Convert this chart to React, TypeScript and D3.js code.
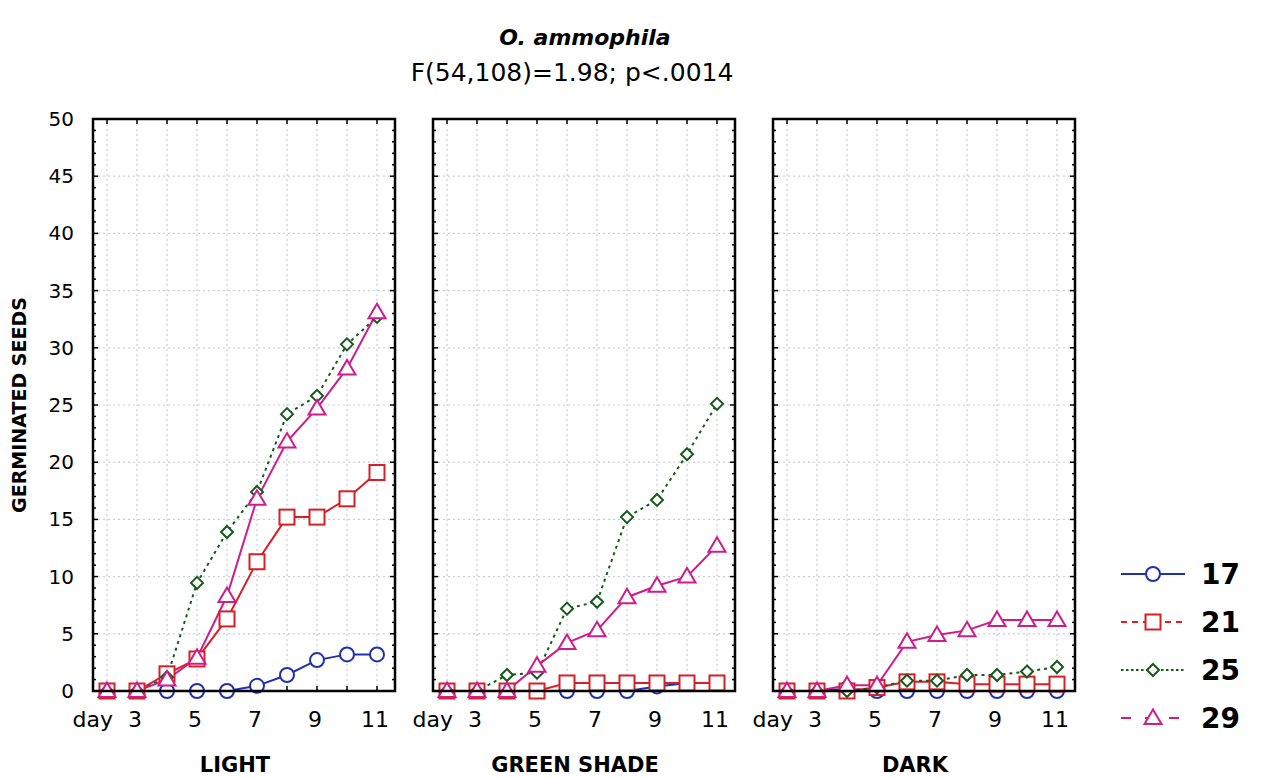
import React from "react";
import * as d3 from "d3";

const days = ["2", "3", "4", "5", "6", "7", "8", "9", "10", "11"];
const dayLabels = ["day", "3", "", "5", "", "7", "", "9", "", "11"];
const panels = ["LIGHT", "GREEN SHADE", "DARK"];
const seriesNames = ["17", "21", "25", "29"];
const yTicks = [0, 5, 10, 15, 20, 25, 30, 35, 40, 45, 50];

// values per panel, per series (days 2..11)
const light17 = [0, 0, 0, 0, 0, 0.45, 1.4, 2.7, 3.2, 3.2];
const light21 = [0, 0, 1.5, 2.8, 6.3, 11.3, 15.2, 15.2, 16.8, 19.1];
const light25 = [0, 0, 1.2, 9.45, 13.9, 17.4, 24.2, 25.8, 30.3, 32.7];
const light29 = [0, 0, 1.0, 2.9, 8.3, 16.8, 21.8, 24.7, 28.2, 33.1];

const shade17 = [0, 0, 0, 0, 0, 0, 0, 0.4, 0.7, 0.7];
const shade21 = [0, 0, 0, 0, 0.7, 0.7, 0.7, 0.7, 0.7, 0.7];
const shade25 = [0, 0, 1.4, 1.6, 7.2, 7.8, 15.2, 16.7, 20.7, 25.1];
const shade29 = [0, 0, 0, 2.2, 4.2, 5.3, 8.2, 9.2, 10.0, 12.7];

const dark17 = [0, 0, 0.2, 0, 0, 0, 0, 0, 0, 0];
const dark21 = [0, 0, 0, 0.3, 0.8, 0.8, 0.6, 0.6, 0.6, 0.6];
const dark25 = [0, 0, 0, 0.3, 0.9, 0.9, 1.4, 1.4, 1.7, 2.1];
const dark29 = [0, 0, 0.5, 0.5, 4.3, 4.9, 5.3, 6.2, 6.2, 6.2];

const panelData = [
  [light17, light21, light25, light29],
  [shade17, shade21, shade25, shade29],
  [dark17, dark21, dark25, dark29],
];

const colors = ["#1f2fae", "#d81f26", "#16591c", "#cf1c8c"];
const plotDash = ["none", "none", "3,4", "none"];
const legendDash = ["none", "6,5", "2.5,2.5", "10,14"];
const markers = ["circle", "square", "diamond", "triangle"];

const FONT = "'DejaVu Sans', sans-serif";

function Marker({ type, x, y, color }: { type: string; x: number; y: number; color: string }) {
  const common = { fill: "white", stroke: color, strokeWidth: 2 };
  if (type === "circle") return <circle cx={x} cy={y} r={7} {...common} />;
  if (type === "square") return <rect x={x - 7.5} y={y - 7.5} width={15} height={15} {...common} />;
  if (type === "diamond")
    return <path d={`M${x},${y - 6}L${x + 6},${y}L${x},${y + 6}L${x - 6},${y}Z`} {...common} />;
  return <path d={`M${x},${y - 8.5}L${x + 8.5},${y + 6}L${x - 8.5},${y + 6}Z`} {...common} />;
}

export default function App() {
  const W = 1265, H = 778;
  const top = 119, bottom = 691;
  const pw = 302;
  const lefts = [93, 433, 773];
  const y = d3.scaleLinear().domain([0, 50]).range([bottom, top]);
  const minorTicks = d3.range(0, 51, 1);

  return (
    <svg width={W} height={H} style={{ position: "absolute", left: 0, top: 0, background: "white" }} fontFamily={FONT}>
      <rect width={W} height={H} fill="white" />
      <text x={585} y={45} textAnchor="middle" fontWeight="bold" fontStyle="italic" fontSize={22}>O. ammophila</text>
      <text x={572} y={81} textAnchor="middle" fontSize={25}>F(54,108)=1.98; p&lt;.0014</text>
      <text transform={`translate(26,${405}) rotate(-90)`} textAnchor="middle" fontWeight="bold" fontSize={19}>GERMINATED SEEDS</text>

      {yTicks.map((t) => (
        <text key={t} x={74} y={y(t) + 7} textAnchor="end" fontSize={20}>{t}</text>
      ))}

      {panels.map((name, pi) => {
        const L = lefts[pi];
        const x = d3.scalePoint<string>().domain(days).range([L + 14, L + 284]);
        const line = d3.line<number>().x((_, i) => x(days[i])!).y((v) => y(v));
        return (
          <g key={name}>
            {yTicks.slice(1, -1).map((t) => (
              <line key={"h" + t} x1={L} x2={L + pw} y1={y(t)} y2={y(t)} stroke="#c9cdda" strokeWidth={1.2} strokeDasharray="2,3" />
            ))}
            {days.map((d) => (
              <line key={"v" + d} x1={x(d)} x2={x(d)} y1={top} y2={bottom} stroke="#c9cdda" strokeWidth={1.2} strokeDasharray="2,3" />
            ))}
            {minorTicks.map((t) => {
              const len = t % 5 === 0 ? 5 : 3;
              return (
                <g key={"t" + t}>
                  <line x1={L} x2={L + len} y1={y(t)} y2={y(t)} stroke="black" strokeWidth={1.5} />
                  <line x1={L + pw} x2={L + pw - len} y1={y(t)} y2={y(t)} stroke="black" strokeWidth={1.5} />
                </g>
              );
            })}
            {days.map((d) => (
              <g key={"xt" + d}>
                <line x1={x(d)} x2={x(d)} y1={top} y2={top + 5} stroke="black" strokeWidth={1.5} />
                <line x1={x(d)} x2={x(d)} y1={bottom} y2={bottom - 5} stroke="black" strokeWidth={1.5} />
              </g>
            ))}
            {panelData[pi].map((vals, si) => (
              <path key={"l" + si} d={line(vals)!} fill="none" stroke={colors[si]} strokeWidth={2} strokeDasharray={plotDash[si]} />
            ))}
            {panelData[pi].map((vals, si) => (
              <g key={"m" + si}>
                {vals.map((v, i) => (
                  <Marker key={i} type={markers[si]} x={x(days[i])!} y={y(v)} color={colors[si]} />
                ))}
              </g>
            ))}
            <rect x={L} y={top} width={pw} height={bottom - top} fill="none" stroke="black" strokeWidth={2.5} />
            {days.map((d, i) => (
              <text
                key={"xl" + d}
                x={i === 0 ? x(d)! + 6 : x(d)! - 2}
                y={727}
                textAnchor={i === 0 ? "end" : "middle"}
                fontSize={22}
              >
                {dayLabels[i]}
              </text>
            ))}
            <text x={L + 142} y={772} textAnchor="middle" fontWeight="bold" fontSize={21}>{name}</text>
          </g>
        );
      })}

      {seriesNames.map((s, si) => {
        const ly = 574 + si * 48;
        return (
          <g key={s}>
            <line x1={1121} x2={1185} y1={ly} y2={ly} stroke={colors[si]} strokeWidth={2} strokeDasharray={legendDash[si]} />
            <Marker type={markers[si]} x={1153} y={ly} color={colors[si]} />
            <text x={1201} y={ly + 10} fontWeight="bold" fontSize={28}>{s}</text>
          </g>
        );
      })}
    </svg>
  );
}
